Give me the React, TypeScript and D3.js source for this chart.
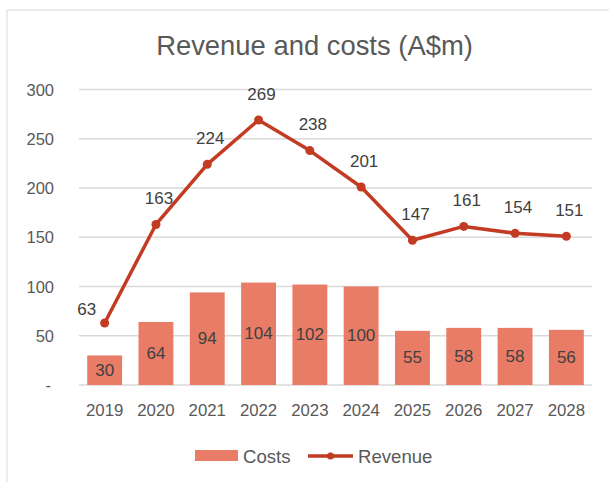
import React from "react";
import * as d3 from "d3";

const years = ["2019", "2020", "2021", "2022", "2023", "2024", "2025", "2026", "2027", "2028"];
const costs = [30, 64, 94, 104, 102, 100, 55, 58, 58, 56];
const revenue = [63, 163, 224, 269, 238, 201, 147, 161, 154, 151];
const yTicks = [0, 50, 100, 150, 200, 250, 300];
const title = "Revenue and costs (A$m)";
const seriesNames = ["Costs", "Revenue"];

const W = 609;
const H = 482;
const FONT = "'Liberation Sans', Arial, sans-serif";
const TEXT = "#595959";
const LABEL = "#404040";
const BAR = "#E97C66";
const LINE = "#C23B22";
const GRID = "#D9D9D9";

export default function App() {
  const x = d3.scaleBand<string>().domain(years).range([79, 592]).paddingInner(0.32).paddingOuter(0.16);
  const y = d3.scaleLinear().domain([0, 300]).range([385, 89.5]);
  const cx = (i: number) => (x(years[i]) as number) + x.bandwidth() / 2;
  const line = d3
    .line<number>()
    .x((_, i) => cx(i))
    .y((d) => y(d));

  return (
    <svg
      width={W}
      height={H}
      style={{ position: "absolute", left: 0, top: 0, background: "#fff" }}
      fontFamily={FONT}
    >
      <rect x={7} y={10} width={700} height={600} fill="#fff" stroke={GRID} strokeWidth={1} />
      <text x={314.5} y={45} textAnchor="middle" dominantBaseline="central" fontSize={27.4} fill={TEXT}>
        {title}
      </text>
      {yTicks.map((t) => (
        <g key={t}>
          <line x1={79} x2={592} y1={y(t)} y2={y(t)} stroke={GRID} strokeWidth={1.3} />
          <text
            x={t === 0 ? 51 : 54}
            y={y(t)}
            textAnchor="end"
            dominantBaseline="central"
            fontSize={16.5}
            fill={TEXT}
          >
            {t === 0 ? "-" : d3.format("d")(t)}
          </text>
        </g>
      ))}
      {costs.map((v, i) => (
        <g key={years[i]}>
          <rect
            x={x(years[i]) as number}
            y={y(v)}
            width={x.bandwidth()}
            height={y(0) - y(v)}
            fill={BAR}
          />
          <text
            x={cx(i)}
            y={(y(v) + y(0)) / 2}
            textAnchor="middle"
            dominantBaseline="central"
            fontSize={17}
            fill={LABEL}
          >
            {v}
          </text>
        </g>
      ))}
      {years.map((yr, i) => (
        <text
          key={yr}
          x={cx(i)}
          y={410}
          textAnchor="middle"
          dominantBaseline="central"
          fontSize={16.8}
          fill={TEXT}
        >
          {yr}
        </text>
      ))}
      <path d={line(revenue) || ""} fill="none" stroke={LINE} strokeWidth={3.5} strokeLinejoin="round" />
      {revenue.map((v, i) => (
        <circle key={i} cx={cx(i)} cy={y(v)} r={4.5} fill={LINE} />
      ))}
      {revenue.map((v, i) => (
        <text
          key={i}
          x={i === 0 ? cx(i) - 18 : cx(i) + 3}
          y={i === 0 ? y(v) - 13 : y(v) - 26}
          textAnchor="middle"
          dominantBaseline="central"
          fontSize={17}
          fill={LABEL}
        >
          {v}
        </text>
      ))}
      {/* legend */}
      <rect x={195} y={450} width={43} height={11} fill={BAR} />
      <text x={243} y={456} dominantBaseline="central" fontSize={18.6} fill={TEXT}>
        {seriesNames[0]}
      </text>
      <line x1={308} x2={353} y1={456} y2={456} stroke={LINE} strokeWidth={3.5} />
      <circle cx={330.5} cy={456} r={3.5} fill={LINE} />
      <text x={358} y={456} dominantBaseline="central" fontSize={18.6} fill={TEXT}>
        {seriesNames[1]}
      </text>
    </svg>
  );
}
